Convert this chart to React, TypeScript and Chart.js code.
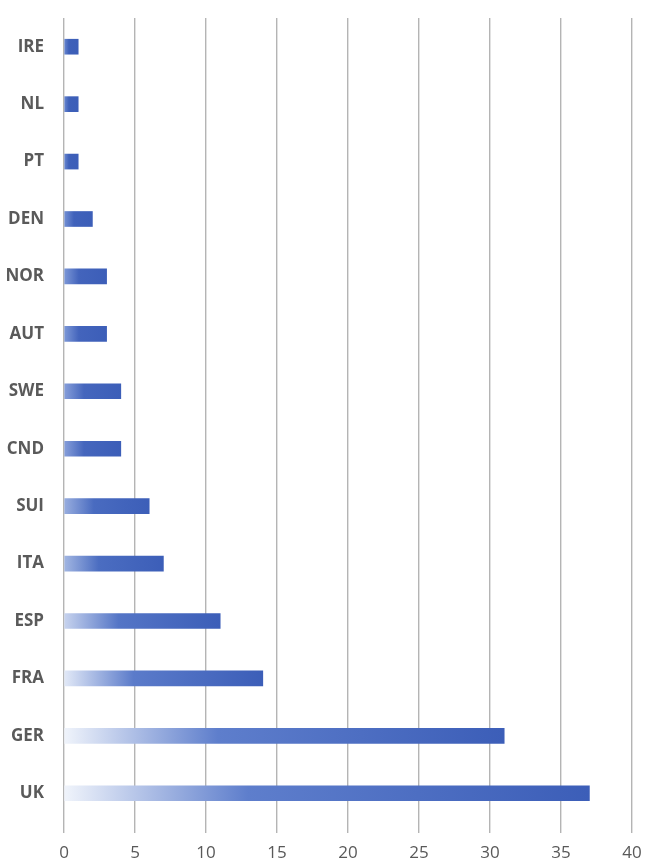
import React, { useEffect, useRef } from "react";
import { Chart, registerables } from "chart.js";

Chart.register(...registerables);

const countries = ["IRE", "NL", "PT", "DEN", "NOR", "AUT", "SWE", "CND", "SUI", "ITA", "ESP", "FRA", "GER", "UK"];
const values = [1, 1, 1, 2, 3, 3, 4, 4, 6, 7, 11, 14, 31, 37];
const xTicks = [0, 5, 10, 15, 20, 25, 30, 35, 40];

function mix(a: number[], b: number[], t: number) {
  return `rgb(${a.map((v, i) => Math.round(v + (b[i] - v) * t)).join(",")})`;
}

export default function App() {
  const ref = useRef<HTMLCanvasElement>(null);
  useEffect(() => {
    document.body.style.margin = "0";
    const canvas = ref.current!;
    const dark = [60, 94, 184];
    const mid = [98, 130, 206];
    const light = [240, 244, 251];
    const chart = new Chart(canvas, {
      type: "bar",
      data: {
        labels: countries,
        datasets: [
          {
            data: values,
            barThickness: 15,
            backgroundColor: (c: any) => {
              const ch = c.chart;
              const sx = ch.scales && ch.scales.x;
              if (!sx || c.raw === undefined) return "rgb(70,105,195)";
              const x0 = sx.getPixelForValue(0);
              const x1 = sx.getPixelForValue(c.raw);
              const len = x1 - x0;
              if (!isFinite(len) || len <= 0) return "rgb(70,105,195)";
              const t = Math.min(1, len / 220);
              const g = ch.ctx.createLinearGradient(x0, 0, x1, 0);
              g.addColorStop(0, mix(mid, light, t));
              g.addColorStop(0.35, mix(dark, mid, t * 0.9));
              g.addColorStop(1, `rgb(${dark.join(",")})`);
              return g;
            },
            borderWidth: 0,
          },
        ],
      },
      options: {
        indexAxis: "y",
        animation: false,
        responsive: false,
        maintainAspectRatio: false,
        layout: { padding: { top: 18, right: 15, bottom: 0, left: 0 } },
        plugins: { legend: { display: false }, tooltip: { enabled: false } },
        scales: {
          x: {
            min: 0,
            max: 40,
            afterBuildTicks: (s: any) => {
              s.ticks = xTicks.map((v) => ({ value: v }));
            },
            afterFit: (s: any) => {
              s.height = 41;
              s.paddingLeft = 0;
              s.paddingRight = 0;
            },
            grid: { color: "#b4b4b4", lineWidth: 1.4, tickLength: 11, drawTicks: true },
            border: { display: false },
            ticks: {
              color: "#595959",
              padding: 10,
              font: { family: "Open Sans", size: 17 },
            },
          },
          y: {
            afterFit: (s: any) => {
              s.width = 64;
              s.paddingTop = 0;
              s.paddingBottom = 0;
            },
            grid: { display: false, drawTicks: false },
            border: { display: false },
            ticks: {
              color: "#5a5a5a",
              padding: 20,
              font: { family: "Open Sans", size: 17, weight: "bold" },
            },
          },
        },
      },
    } as any);
    return () => chart.destroy();
  }, []);
  return (
    <div style={{ width: 647, height: 863 }}>
      <canvas ref={ref} width={647} height={863} style={{ display: "block" }} />
    </div>
  );
}
